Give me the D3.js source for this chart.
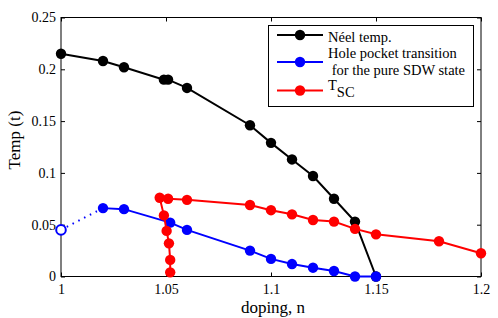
<!DOCTYPE html>
<html>
<head>
<meta charset="utf-8">
<script src="https://cdn.jsdelivr.net/npm/d3@7"></script>
<style>
  body { margin: 0; background: #fff; }
  svg text { font-family: "Liberation Serif", "Times New Roman", serif; fill: #000; }
</style>
</head>
<body>
<script>
// data
var neelN = [1.0, 1.02, 1.03, 1.049, 1.051, 1.06, 1.09, 1.1, 1.11, 1.12, 1.13, 1.14, 1.15];
var neelT = [0.215, 0.208, 0.202, 0.19, 0.19, 0.182, 0.146, 0.129, 0.113, 0.097, 0.075, 0.053, 0.0];

var holeN = [1.02, 1.03, 1.052, 1.06, 1.09, 1.1, 1.11, 1.12, 1.13, 1.14, 1.15];
var holeT = [0.066, 0.065, 0.052, 0.045, 0.025, 0.017, 0.012, 0.0085, 0.0053, 0.0, 0.0];
var holeOpenN = [1.0];
var holeOpenT = [0.045];

var scN = [1.052, 1.052, 1.0514, 1.0503, 1.049, 1.047, 1.051, 1.06, 1.09, 1.1, 1.11, 1.12, 1.13, 1.14, 1.15, 1.18, 1.2];
var scT = [0.004, 0.016, 0.032, 0.044, 0.059, 0.076, 0.075, 0.074, 0.069, 0.064, 0.06, 0.0545, 0.053, 0.046, 0.0407, 0.034, 0.0224];

var xTicks = [1, 1.05, 1.1, 1.15, 1.2];
var xTickLabels = ["1", "1.05", "1.1", "1.15", "1.2"];
var yTicks = [0, 0.05, 0.1, 0.15, 0.2, 0.25];
var yTickLabels = ["0", "0.05", "0.1", "0.15", "0.2", "0.25"];

var width = 498, height = 318;
var mLeft = 61, mRight = 481, mTop = 17.5, mBottom = 276.5;
var serif = '"Liberation Serif", "Times New Roman", serif';
var markR = 5.2;

var svg = d3.select('body').append('svg').attr('width', width).attr('height', height);

var x = d3.scaleLinear().domain([1, 1.2]).range([mLeft, mRight]);
var y = d3.scaleLinear().domain([0, 0.25]).range([mBottom, mTop]);

function zip(a, b) { return a.map(function (d, i) { return [d, b[i]]; }); }

// frame
svg.append('rect').attr('x', mLeft).attr('y', mTop)
  .attr('width', mRight - mLeft).attr('height', mBottom - mTop)
  .attr('fill', 'none').attr('stroke', '#000').attr('stroke-width', 1);

// axes with inward ticks
var xAxis = d3.axisBottom(x).tickValues(xTicks).tickSize(-4).tickPadding(8)
  .tickFormat(function (d, i) { return xTickLabels[i]; });
var gx = svg.append('g').attr('transform', 'translate(0,' + mBottom + ')').call(xAxis);
var gxt = svg.append('g').attr('transform', 'translate(0,' + mTop + ')')
  .call(d3.axisTop(x).tickValues(xTicks).tickSize(-4).tickFormat(''));
var yAxis = d3.axisLeft(y).tickValues(yTicks).tickSize(-4).tickPadding(5)
  .tickFormat(function (d, i) { return yTickLabels[i]; });
var gy = svg.append('g').attr('transform', 'translate(' + mLeft + ',0)').call(yAxis);
var gyr = svg.append('g').attr('transform', 'translate(' + mRight + ',0)')
  .call(d3.axisRight(y).tickValues(yTicks).tickSize(-4).tickFormat(''));

[gx, gxt, gy, gyr].forEach(function (g) {
  g.attr('font-family', serif).attr('font-size', 14);
  g.select('.domain').remove();
  g.selectAll('line').attr('stroke', '#000');
  g.selectAll('text').attr('fill', '#000');
});

// axis labels
svg.append('text').attr('x', 273).attr('y', 313).attr('text-anchor', 'middle')
  .attr('font-size', 17).text('doping, n');
svg.append('text').attr('transform', 'translate(20,140) rotate(-90)').attr('text-anchor', 'middle')
  .attr('font-size', 17).text('Temp (t)');

var line = d3.line().x(function (d) { return x(d[0]); }).y(function (d) { return y(d[1]); });

function series(pts, color) {
  svg.append('path').datum(pts).attr('d', line)
    .attr('fill', 'none').attr('stroke', color).attr('stroke-width', 2);
  svg.append('g').selectAll('circle').data(pts).enter().append('circle')
    .attr('cx', function (d) { return x(d[0]); })
    .attr('cy', function (d) { return y(d[1]); })
    .attr('r', markR).attr('fill', color);
}

series(zip(neelN, neelT), '#000');

// dotted link from the open point
var openPts = zip(holeOpenN, holeOpenT);
svg.append('path').datum([openPts[0], [holeN[0], holeT[0]]]).attr('d', line)
  .attr('fill', 'none').attr('stroke', '#0000ff').attr('stroke-width', 2)
  .attr('stroke-dasharray', '1.5,5');
series(zip(holeN, holeT), '#0000ff');
svg.append('g').selectAll('circle').data(openPts).enter().append('circle')
  .attr('cx', function (d) { return x(d[0]); })
  .attr('cy', function (d) { return y(d[1]); })
  .attr('r', 4.8).attr('fill', '#fff').attr('stroke', '#0000ff').attr('stroke-width', 2);

series(zip(scN, scT), '#ff0000');

// legend
var lg = svg.append('g').attr('font-size', 14.5);
lg.append('rect').attr('x', 268.5).attr('y', 25.5).attr('width', 205).attr('height', 81)
  .attr('fill', '#fff').attr('stroke', '#000').attr('stroke-width', 1);
var legendItems = [
  { color: '#000', y: 35 },
  { color: '#0000ff', y: 62 },
  { color: '#ff0000', y: 90.5 }
];
legendItems.forEach(function (it) {
  lg.append('line').attr('x1', 277).attr('x2', 323).attr('y1', it.y).attr('y2', it.y)
    .attr('stroke', it.color).attr('stroke-width', 2);
  lg.append('circle').attr('cx', 300).attr('cy', it.y).attr('r', markR).attr('fill', it.color);
});
lg.append('text').attr('x', 328).attr('y', 41.5).text('Néel temp.');
lg.append('text').attr('x', 328).attr('y', 58).text('Hole pocket transition');
lg.append('text').attr('x', 328).attr('y', 75)
  .attr('xml:space', 'preserve').style('white-space', 'pre').text(' for the pure SDW state');
var tsc = lg.append('text').attr('x', 328).attr('y', 90);
tsc.append('tspan').text('T');
tsc.append('tspan').attr('dy', 7).text('SC');
</script>
</body>
</html>
